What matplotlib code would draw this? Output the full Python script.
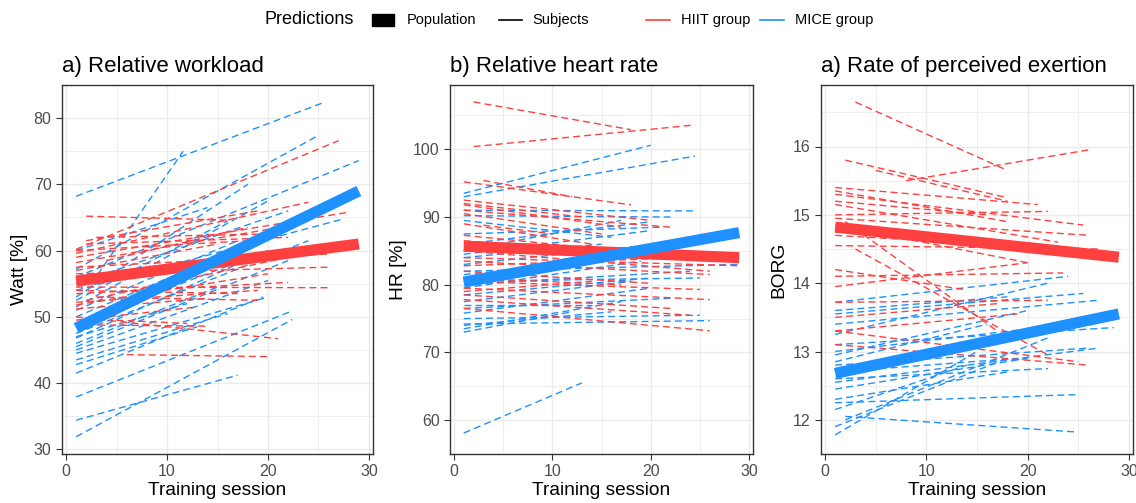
import matplotlib
matplotlib.use("Agg")
import matplotlib.pyplot as plt
from matplotlib.lines import Line2D
from matplotlib.patches import Rectangle

plt.rcParams['font.family'] = ['Liberation Sans', 'DejaVu Sans']

RED = "#FF4040"
BLUE = "#1E90FF"

# subject lines: (first session, value, last session, value)
wl_hiit = [(2, 65.2, 16, 64.6), (1, 60.2, 27, 76.6), (1, 59.6, 24, 67.3), (1, 59.0, 28, 65.8),
           (2, 61.5, 19, 66.0), (3, 62.0, 20, 62.5), (1, 58.2, 23, 64.0), (1, 57.5, 26, 59.5),
           (1, 56.5, 26, 57.5), (1, 55.8, 17, 59.0), (1, 54.5, 26, 54.4), (1, 53.5, 22, 55.2),
           (1, 52.2, 19, 54.0), (1, 51.8, 20, 56.5), (1, 51.2, 14, 52.8), (1, 50.0, 21, 46.7),
           (1, 48.8, 14, 48.6), (6, 44.3, 20, 44.0), (2, 61.0, 22, 62.0), (4, 58.5, 18, 63.5),
           (3, 53.0, 19, 52.5), (5, 49.5, 12, 49.0), (1, 60.0, 18, 61.5), (1, 57.0, 15, 61.0),
           (1, 54.0, 17, 53.5), (2, 52.5, 22, 59.0), (1, 49.5, 13, 51.5)]
wl_mice = [(1, 68.2, 25.6, 82.4), (2.5, 55.0, 11.6, 75.0), (1, 57.2, 25, 77.4), (1, 56.0, 29, 73.6),
           (1, 54.0, 27.5, 64.8), (1, 53.0, 18, 70.0), (1, 51.5, 20, 67.5), (1, 52.5, 16, 64.5),
           (1, 50.0, 22, 63.5), (1, 49.0, 20, 60.0), (1, 47.5, 24, 61.5), (1, 46.8, 17, 58.0),
           (1, 46.0, 15, 54.5), (1, 45.0, 20, 55.5), (1, 44.5, 20, 53.0), (1, 42.8, 13, 48.5),
           (1, 41.5, 19.5, 53.0), (1, 37.9, 22.4, 50.9), (1, 31.9, 22.4, 49.6), (1, 34.4, 17, 41.2),
           (1, 60.0, 14, 66.5), (1, 48.5, 12, 57.0), (1, 55.0, 22, 66.0), (1, 51.0, 17, 61.5),
           (1, 47.0, 12, 52.0), (1, 43.5, 16, 50.5), (1, 45.5, 22, 58.5)]
wl_pop_hiit = (1, 55.4, 29, 61.0)
wl_pop_mice = (1, 48.3, 29, 69.0)

hr_hiit = [(2, 107.0, 18, 102.9), (2, 100.4, 24.5, 103.6), (1, 95.2, 18, 91.8), (3, 95.4, 12, 93.0),
           (1, 92.5, 20, 89.5), (1, 91.8, 17, 88.5), (1, 91.0, 22, 88.5), (1, 90.5, 15, 87.5),
           (1, 89.0, 14, 86.0), (3, 88.8, 10, 87.5), (1, 87.3, 17, 85.0), (1, 84.0, 29, 82.8),
           (1, 83.5, 26, 81.5), (1, 82.0, 20, 80.2), (1, 80.5, 25, 79.3), (1, 79.5, 26, 77.8),
           (1, 78.5, 22, 76.5), (1, 77.8, 24, 75.5), (1, 76.5, 26, 73.2), (1, 82.8, 23, 84.0),
           (1, 85.0, 26, 82.0), (1, 92.0, 13, 90.0), (1, 86.5, 22, 84.0), (1, 81.0, 17, 80.0),
           (1, 79.0, 14, 80.5)]
hr_mice = [(1, 93.5, 20, 100.6), (1, 93.0, 24.5, 99.0), (1, 91.0, 24.5, 90.9), (1, 90.2, 22, 90.0),
           (1, 86.0, 20, 89.3), (1, 85.0, 17, 89.5), (1, 84.5, 20, 88.0), (1, 83.0, 24, 86.5),
           (1, 82.0, 29, 83.0), (1, 81.5, 22, 84.5), (1, 80.5, 25, 81.0), (1, 79.5, 19, 83.5),
           (1, 78.5, 20, 81.0), (1, 77.5, 18, 80.5), (1, 76.5, 22, 78.0), (1, 75.8, 20, 79.5),
           (1, 75.0, 25, 75.5), (1, 74.2, 26, 74.7), (1, 73.5, 17, 77.5), (1, 73.0, 12, 76.0),
           (1, 58.1, 13, 65.5), (1, 89.5, 16, 87.0), (1, 87.5, 21, 88.5), (1, 84.0, 15, 86.0),
           (1, 80.0, 24, 82.0), (1, 77.0, 14, 77.0), (1, 74.0, 16, 76.0)]
hr_pop_hiit = (1, 85.7, 29, 84.0)
hr_pop_mice = (1, 80.4, 29, 87.7)

borg_hiit = [(3, 16.65, 18, 15.65), (8, 15.5, 26, 15.95), (2, 15.8, 18, 15.25), (5, 15.65, 18, 15.2),
             (1, 15.4, 21, 15.15), (1, 15.35, 18, 14.9), (1, 15.3, 25.5, 14.85), (1, 15.15, 23, 14.6),
             (1, 15.0, 22, 15.05), (1, 14.95, 26, 14.7), (1, 14.7, 24, 14.5), (2, 14.9, 17, 13.3),
             (1, 14.55, 27, 14.5), (1, 14.1, 23.5, 14.15), (1, 13.95, 20, 14.3), (1, 13.72, 22, 13.75),
             (1, 13.3, 19, 13.55), (1, 13.1, 26, 12.8), (1, 13.3, 25, 12.85), (3, 14.5, 22, 12.95),
             (1, 15.2, 16, 15.0), (1, 14.85, 20, 14.3), (1, 14.2, 14, 13.9), (1, 13.5, 17, 13.7)]
borg_mice = [(1, 13.72, 24, 14.1), (1, 13.55, 25.5, 13.85), (1, 13.4, 27, 13.75), (1, 13.25, 22, 14.0),
             (1, 13.1, 28.5, 13.35), (1, 12.95, 20, 13.6), (1, 12.8, 26, 13.05), (1, 12.6, 22, 12.75),
             (1, 12.55, 27, 13.05), (1, 12.3, 18, 12.7), (1, 12.25, 25, 12.37), (2, 12.05, 25, 11.82),
             (1, 11.9, 18, 12.9), (1, 11.78, 15, 13.0), (2, 12.0, 22, 13.2), (1, 12.45, 20, 12.9),
             (1, 13.6, 18, 13.8), (1, 13.0, 24, 13.4), (1, 12.7, 19, 12.9), (1, 12.15, 14, 12.8),
             (1, 12.85, 16, 13.4)]
borg_pop_hiit = (1, 14.82, 29, 14.38)
borg_pop_mice = (1, 12.68, 29, 13.55)

titles = ["a) Relative workload", "b) Relative heart rate", "a) Rate of perceived exertion"]
ylabels = ["Watt [%]", "HR [%]", "BORG"]
yticks = [[30, 40, 50, 60, 70, 80], [60, 70, 80, 90, 100], [12, 13, 14, 15, 16]]
yminor = [[35, 45, 55, 65, 75, 85], [55, 65, 75, 85, 95, 105], [11.5, 12.5, 13.5, 14.5, 15.5, 16.5]]
ylims = [(29.3, 85.0), (56.0, 109.5), (11.55, 16.9)]
xticks = [0, 10, 20, 30]

panels = [(wl_hiit, wl_mice, wl_pop_hiit, wl_pop_mice),
          (hr_hiit, hr_mice, hr_pop_hiit, hr_pop_mice),
          (borg_hiit, borg_mice, borg_pop_hiit, borg_pop_mice)]

W, H = 1136, 503
fig = plt.figure(figsize=(W / 100, H / 100), dpi=100)
boxes = [(62, 373), (450, 753), (821, 1133)]
top, bottom = 85, 454

for i, (hiit, mice, pop_h, pop_m) in enumerate(panels):
    l, r = boxes[i]
    ax = fig.add_axes([l / W, (H - bottom) / H, (r - l) / W, (bottom - top) / H])
    ax.set_xlim(-0.4, 30.4)
    ax.set_ylim(*ylims[i])
    ax.set_xticks(xticks)
    ax.set_xticks([5, 15, 25], minor=True)
    ax.set_yticks(yticks[i])
    ax.set_yticks(yminor[i], minor=True)
    ax.grid(which="major", color="#EBEBEB", lw=1.0)
    ax.grid(which="minor", color="#EBEBEB", lw=0.6)
    ax.set_axisbelow(True)
    for s in ax.spines.values():
        s.set_color("#333333")
        s.set_linewidth(1.0)
    ax.tick_params(which="major", colors="#333333", labelcolor="#4D4D4D", labelsize=11.5,
                   length=4, width=0.8)
    ax.tick_params(which="minor", length=0)
    for grp, col in ((mice, BLUE), (hiit, RED)):
        for x0, y0, x1, y1 in grp:
            ax.plot([x0, x1], [y0, y1], color=col, lw=1.0, ls=(0, (5, 3)))
    for (x0, y0, x1, y1), col in ((pop_h, RED), (pop_m, BLUE)):
        ax.plot([x0, x1], [y0, y1], color=col, lw=8, solid_capstyle="butt")
    ax.set_xlabel("Training session", fontsize=13.8, labelpad=2)
    ax.set_ylabel(ylabels[i], fontsize=13.8, labelpad=4)
    ax.set_title(titles[i], loc="left", fontsize=16, pad=9)

# legend across the top
ly = 1 - 20 / H
fig.text(265 / W, ly, "Predictions", fontsize=13, va="center", ha="left")
fig.add_artist(Rectangle((372 / W, 1 - 26 / H), 22 / W, 12 / H, color="black",
                         transform=fig.transFigure))
fig.text(407 / W, ly, "Population", fontsize=10.5, va="center", ha="left")
fig.add_artist(Line2D([499 / W, 522 / W], [ly, ly], color="black", lw=1.2))
fig.text(532 / W, ly, "Subjects", fontsize=10.5, va="center", ha="left")
fig.add_artist(Line2D([646 / W, 670 / W], [ly, ly], color=RED, lw=1.2))
fig.text(681 / W, ly, "HIIT group", fontsize=10.5, va="center", ha="left")
fig.add_artist(Line2D([760 / W, 784 / W], [ly, ly], color=BLUE, lw=1.2))
fig.text(795 / W, ly, "MICE group", fontsize=10.5, va="center", ha="left")

fig.savefig("out.png", dpi=100)
